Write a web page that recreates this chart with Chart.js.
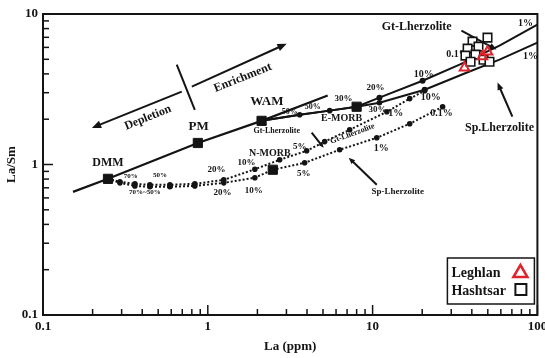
<!DOCTYPE html>
<html><head><meta charset="utf-8">
<script src="https://cdn.jsdelivr.net/npm/chart.js@4/dist/chart.umd.min.js"></script>
<style>html,body{margin:0;padding:0;background:#fff;}canvas{display:block;}</style>
</head><body>
<canvas id="c" width="545" height="358"></canvas>
<script>
// ---- data (La ppm, La/Sm) ----
const mainLa   = [0.152, 0.248, 0.87, 2.12, 5.34];
const mainLaSm = [0.658, 0.803, 1.39, 1.95, 2.87];

const refNames = ['DMM', 'PM', 'WAM', 'N-MORB', 'E-MORB'];
const refLa    = [0.248, 0.87, 2.12, 2.48, 8.0];
const refLaSm  = [0.803, 1.39, 1.95, 0.923, 2.42];

const curveA_La   = [2.12, 3.61, 5.49, 8.0, 11.0, 20.1, 33.7, 58.9, 100];
const curveA_LaSm = [1.95, 2.14, 2.28, 2.42, 2.78, 3.60, 4.61, 6.17, 8.5];
const curveB_La   = [2.12, 3.61, 5.49, 8.0, 11.0, 20.7, 37.1, 58.9, 100];
const curveB_LaSm = [1.95, 2.14, 2.28, 2.42, 2.57, 3.14, 4.07, 4.97, 6.45];

const gtMelt_La   = [0.248, 0.293, 0.361, 0.445, 0.589, 0.834, 1.25, 1.93, 2.73, 3.98, 5.12, 7.26, 12.2, 16.8, 20.7];
const gtMelt_LaSm = [0.803, 0.767, 0.744, 0.733, 0.733, 0.744, 0.79, 0.93, 1.075, 1.233, 1.42, 1.70, 2.24, 2.74, 3.09];
const spMelt_La   = [0.248, 0.293, 0.361, 0.445, 0.589, 0.834, 1.25, 1.93, 2.48, 3.87, 6.31, 10.6, 16.8, 26.6];
const spMelt_LaSm = [0.803, 0.755, 0.721, 0.711, 0.711, 0.721, 0.755, 0.817, 0.923, 1.026, 1.253, 1.505, 1.866, 2.42];

const leghlanLa   = [36.1, 46.4, 49.8];
const leghlanLaSm = [4.40, 5.21, 5.62];
const hashtsarLa   = [40.4, 49.8, 37.7, 43.9, 36.6, 42.1, 39.3, 47.1, 51.2];
const hashtsarLaSm = [6.55, 6.97, 5.89, 6.07, 5.29, 5.37, 4.82, 4.97, 4.82];

const xTickLabels = ['0.1', '1', '10', '100'];
const yTickLabels = ['0.1', '1', '10'];

// annotation texts: [text, La, La/Sm, size, rotationDeg]
const notes = [
  ['DMM', 0.248, 1.03, 12, 0],
  ['PM', 0.88, 1.78, 13, 0],
  ['WAM', 2.28, 2.61, 13, 0],
  ['Depletion', 0.433, 2.05, 12, -22],
  ['Enrichment', 1.63, 3.77, 12, -22],
  ['N-MORB', 2.38, 1.18, 10, 0],
  ['E-MORB', 6.49, 2.01, 10, 0],
  ['Gt-Lherzolite', 2.62, 1.68, 8, 0],
  ['Gt-Lherzolite', 7.56, 1.60, 8, -20],
  ['Sp-Lherzolite', 14.2, 0.658, 9, 0],
  ['Sp.Lherzolite', 58.9, 1.75, 12, 0],
  ['Gt-Lherzolite', 18.5, 8.24, 12, 0],
  ['1%', 84.6, 8.63, 10, 0],
  ['1%', 90.7, 5.21, 10, 0],
  ['0.1%', 32.7, 5.37, 10, 0],
  ['10%', 20.4, 3.95, 10, 0],
  ['10%', 22.5, 2.78, 10, 0],
  ['20%', 10.4, 3.24, 9, 0],
  ['30%', 6.67, 2.74, 9, 0],
  ['50%', 4.33, 2.42, 8, 0],
  ['50%', 3.14, 2.24, 8, 0],
  ['30%', 10.7, 2.31, 9, 0],
  ['1%', 13.8, 2.18, 10, 0],
  ['0.1%', 26.2, 2.18, 10, 0],
  ['1%', 11.3, 1.27, 10, 0],
  ['5%', 3.61, 1.31, 9, 0],
  ['5%', 3.82, 0.867, 9, 0],
  ['10%', 1.72, 1.03, 9, 0],
  ['20%', 1.13, 0.923, 9, 0],
  ['20%', 1.23, 0.649, 9, 0],
  ['10%', 1.90, 0.668, 9, 0],
  ['70%', 0.341, 0.841, 7, 0],
  ['50%', 0.512, 0.853, 7, 0],
  ['70%~50%', 0.415, 0.658, 7, 0]
];
// arrows: [fromLa, fromLaSm, toLa, toLaSm, headSize]
const arrows = [
  [0.695, 3.05, 0.198, 1.75, 10],
  [0.80, 3.29, 3.01, 6.35, 10],
  [34.6, 7.76, 56.5, 5.80, 8],
  [70.5, 2.08, 57.3, 3.50, 8],
  [10.6, 0.733, 7.16, 1.11, 7],
  [4.27, 1.63, 5.05, 1.29, 6]
];
const divider = [0.648, 4.61, 0.834, 2.31];

const zip = (xs, ys) => xs.map((x, i) => ({x, y: ys[i]}));
const SERIF = '"Liberation Serif", "DejaVu Serif", serif';
const INK = '#141414';
const RED = '#e0242c';

const annot = {
  id: 'annot',
  beforeDatasetsDraw(chart) {
    const {ctx, scales: {x, y}} = chart;
    ctx.save();
    ctx.fillStyle = INK; ctx.strokeStyle = INK;
    ctx.textAlign = 'center'; ctx.textBaseline = 'middle';
    notes.forEach(([t, a, b, s, r]) => {
      ctx.save();
      ctx.translate(x.getPixelForValue(a), y.getPixelForValue(b));
      ctx.rotate(r * Math.PI / 180);
      ctx.font = 'bold ' + s + 'px ' + SERIF;
      ctx.fillText(t, 0, 0);
      ctx.restore();
    });
    ctx.lineWidth = 2;
    arrows.forEach(([a1, b1, a2, b2, h]) => {
      const x1 = x.getPixelForValue(a1), y1 = y.getPixelForValue(b1);
      const x2 = x.getPixelForValue(a2), y2 = y.getPixelForValue(b2);
      const ang = Math.atan2(y2 - y1, x2 - x1);
      ctx.beginPath(); ctx.moveTo(x1, y1);
      ctx.lineTo(x2 - Math.cos(ang) * h * 0.8, y2 - Math.sin(ang) * h * 0.8); ctx.stroke();
      ctx.beginPath(); ctx.moveTo(x2, y2);
      ctx.lineTo(x2 - h * Math.cos(ang - 0.4), y2 - h * Math.sin(ang - 0.4));
      ctx.lineTo(x2 - h * Math.cos(ang + 0.4), y2 - h * Math.sin(ang + 0.4));
      ctx.closePath(); ctx.fill();
    });
    ctx.beginPath();
    ctx.moveTo(x.getPixelForValue(divider[0]), y.getPixelForValue(divider[1]));
    ctx.lineTo(x.getPixelForValue(divider[2]), y.getPixelForValue(divider[3]));
    ctx.stroke();
    ctx.restore();
  },
  afterDraw(chart) {
    const {ctx, chartArea: ca, scales: {x, y}} = chart;
    ctx.save();
    ctx.strokeStyle = INK; ctx.lineWidth = 2;
    ctx.strokeRect(ca.left, ca.top, ca.right - ca.left, ca.bottom - ca.top);
    ctx.lineWidth = 1.5;
    // inward ticks
    for (let d = -1; d <= 2; d++) {
      for (let m = 1; m <= 9; m++) {
        const v = m * Math.pow(10, d);
        if (v > 100.0001) break;
        const len = m === 1 ? 10 : 6;
        const px = x.getPixelForValue(v);
        ctx.beginPath(); ctx.moveTo(px, ca.bottom); ctx.lineTo(px, ca.bottom - len); ctx.stroke();
        if (v <= 10.0001) {
          const py = y.getPixelForValue(v);
          ctx.beginPath(); ctx.moveTo(ca.left, py); ctx.lineTo(ca.left + len, py); ctx.stroke();
        }
      }
    }
    // legend box
    const bx = ca.right - 90, by = ca.bottom - 57, bw = 87, bh = 46;
    ctx.fillStyle = '#fff'; ctx.fillRect(bx, by, bw, bh);
    ctx.lineWidth = 1.5; ctx.strokeRect(bx, by, bw, bh);
    ctx.fillStyle = INK; ctx.font = 'bold 14px ' + SERIF;
    ctx.textAlign = 'left'; ctx.textBaseline = 'alphabetic';
    ctx.fillText('Leghlan', bx + 4, by + 19);
    ctx.fillText('Hashtsar', bx + 4, by + 37);
    ctx.strokeStyle = RED; ctx.lineWidth = 2.5;
    ctx.beginPath();
    ctx.moveTo(bx + 73, by + 7); ctx.lineTo(bx + 80, by + 19); ctx.lineTo(bx + 66, by + 19); ctx.closePath(); ctx.stroke();
    ctx.strokeStyle = INK; ctx.lineWidth = 2;
    ctx.strokeRect(bx + 68, by + 26, 11, 11);
    ctx.restore();
  }
};

const tickCb = labels => v => {
  const l = Math.log10(v);
  if (Math.abs(l - Math.round(l)) < 1e-6) {
    const s = String(Number(v.toPrecision(3)));
    return labels.includes(s) ? s : '';
  }
  return '';
};

new Chart(document.getElementById('c'), {
  type: 'scatter',
  data: {
    datasets: [
      { label: 'Leghlan', data: zip(leghlanLa, leghlanLaSm), pointStyle: 'triangle', pointRadius: 5.5,
        borderColor: RED, backgroundColor: 'rgba(255,255,255,0)', borderWidth: 2, order: 1 },
      { label: 'Hashtsar', data: zip(hashtsarLa, hashtsarLaSm), pointStyle: 'rect', pointRadius: 6,
        borderColor: INK, backgroundColor: '#fff', borderWidth: 1.6, order: 2 },
      { label: 'models', data: zip(refLa, refLaSm), pointStyle: 'rect', pointRadius: 6.5,
        borderColor: INK, backgroundColor: INK, borderWidth: 1, order: 3 },
      { label: 'main', data: zip(mainLa, mainLaSm), showLine: true, pointRadius: 0,
        borderColor: INK, borderWidth: 2.2, order: 4 },
      { label: 'curveA', data: zip(curveA_La, curveA_LaSm), showLine: true,
        pointRadius: [0, 1.8, 1.8, 0, 2, 2, 0, 0, 0], backgroundColor: INK,
        borderColor: INK, borderWidth: 2, order: 5 },
      { label: 'curveB', data: zip(curveB_La, curveB_LaSm), showLine: true,
        pointRadius: [0, 0, 0, 0, 1.8, 2, 0, 0, 0], backgroundColor: INK,
        borderColor: INK, borderWidth: 2, order: 6 },
      { label: 'gtMelt', data: zip(gtMelt_La, gtMelt_LaSm), showLine: true,
        pointRadius: 1.8, backgroundColor: INK, borderColor: INK, borderWidth: 2, borderDash: [2, 2], order: 7 },
      { label: 'spMelt', data: zip(spMelt_La, spMelt_LaSm), showLine: true,
        pointRadius: 1.8, backgroundColor: INK, borderColor: INK, borderWidth: 2, borderDash: [2, 2], order: 8 }
    ]
  },
  options: {
    responsive: false, animation: false, devicePixelRatio: 1,
    layout: { padding: { top: 14, right: 7, left: 0, bottom: 0 } },
    plugins: { legend: { display: false }, tooltip: { enabled: false } },
    scales: {
      x: {
        type: 'logarithmic', min: 0.1, max: 100, position: 'bottom',
        grid: { display: false, drawTicks: false }, border: { display: false },
        ticks: { autoSkip: false, maxRotation: 0, padding: 4, color: INK,
          font: { family: SERIF, size: 13, weight: 'bold' }, callback: tickCb(xTickLabels) },
        title: { display: true, text: 'La (ppm)', color: INK, font: { family: SERIF, size: 13, weight: 'bold' } },
        afterFit: s => { s.height = 43; s.paddingLeft = 0; s.paddingRight = 0; }
      },
      y: {
        type: 'logarithmic', min: 0.1, max: 10,
        grid: { display: false, drawTicks: false }, border: { display: false },
        ticks: { autoSkip: false, padding: 5, color: INK,
          font: { family: SERIF, size: 13, weight: 'bold' }, callback: tickCb(yTickLabels) },
        title: { display: true, text: 'La/Sm', color: INK, font: { family: SERIF, size: 13, weight: 'bold' } },
        afterFit: s => { s.width = 43; s.paddingTop = 0; s.paddingBottom = 0; }
      }
    }
  },
  plugins: [annot]
});
</script>
</body></html>
